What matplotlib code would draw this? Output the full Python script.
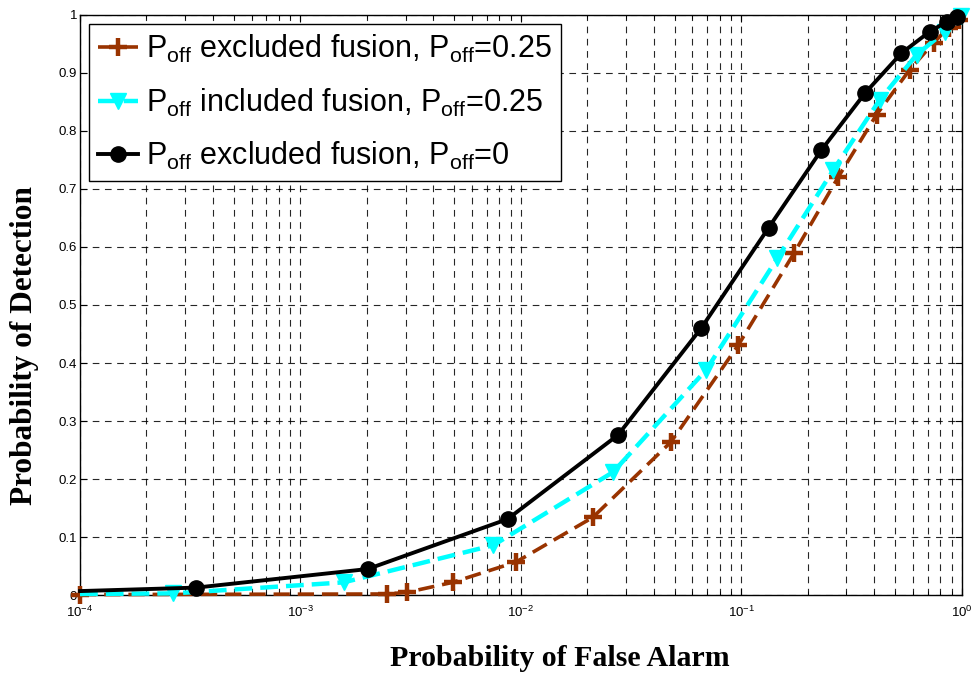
import matplotlib
matplotlib.use("Agg")
import matplotlib.pyplot as plt
from matplotlib.ticker import LogLocator, FixedLocator

plt.rcParams['font.family'] = ['Liberation Sans', 'DejaVu Sans']
plt.rcParams['mathtext.default'] = 'regular'

# Curve data
pf_excl = [1e-4, 2.48e-3, 3.06e-3, 4.9e-3, 9.5e-3, 0.0212, 0.048, 0.097, 0.174,
           0.276, 0.411, 0.58, 0.746, 0.873, 0.97]
pd_excl = [0.001, 0.002, 0.005, 0.022, 0.057, 0.134, 0.264, 0.431, 0.59,
           0.721, 0.828, 0.905, 0.952, 0.978, 0.991]

pf_incl = [1e-4, 2.65e-4, 1.57e-3, 7.5e-3, 0.0262, 0.0693, 0.146, 0.262, 0.424,
           0.624, 0.838, 0.99]
pd_incl = [0.002, 0.003, 0.022, 0.086, 0.212, 0.388, 0.581, 0.733, 0.853,
           0.931, 0.971, 0.998]

pf_zero = [1e-4, 3.37e-4, 2.02e-3, 8.7e-3, 0.0276, 0.0658, 0.133, 0.231, 0.366,
           0.533, 0.716, 0.855, 0.95]
pd_zero = [0.007, 0.013, 0.045, 0.131, 0.276, 0.46, 0.633, 0.767, 0.866,
           0.934, 0.971, 0.988, 0.997]

labels = [r'P$_{off}$ excluded fusion, P$_{off}$=0.25',
          r'P$_{off}$ included fusion, P$_{off}$=0.25',
          r'P$_{off}$ excluded fusion, P$_{off}$=0']
y_ticks = [0, 0.1, 0.2, 0.3, 0.4, 0.5, 0.6, 0.7, 0.8, 0.9, 1]
y_ticklabels = ['0', '0.1', '0.2', '0.3', '0.4', '0.5', '0.6', '0.7', '0.8', '0.9', '1']

fig = plt.figure(figsize=(9.71, 6.74), dpi=100)
ax = fig.add_axes([0.0824, 0.117, 0.908, 0.861])

ax.plot(pf_excl, pd_excl, '--', color='#993300', lw=2.6, marker='+', ms=13, mew=3.2,
        dashes=(4.5, 2.2), label=labels[0], clip_on=False, zorder=3)
ax.plot(pf_incl, pd_incl, '--', color='#00FFFF', lw=3.2, marker='v', ms=11,
        dashes=(4, 1.8), markevery=list(range(1, len(pf_incl))),
        label=labels[1], clip_on=False, zorder=4)
ax.plot(pf_zero, pd_zero, '-', color='black', lw=2.8, marker='o', ms=11,
        markevery=list(range(1, len(pf_zero))), label=labels[2], clip_on=False, zorder=5)

ax.set_xscale('log')
ax.set_xlim(1e-4, 1)
ax.set_ylim(0, 1)
ax.xaxis.set_major_locator(LogLocator(base=10, numticks=10))
ax.xaxis.set_minor_locator(LogLocator(base=10, subs=range(2, 10), numticks=20))
ax.yaxis.set_major_locator(FixedLocator(y_ticks))
ax.set_yticklabels(y_ticklabels)

ax.grid(True, which='both', axis='x', color='black', linestyle=(0, (6, 5)), lw=0.8, alpha=0.85)
ax.grid(True, which='major', axis='y', color='black', linestyle=(0, (6, 5)), lw=0.8, alpha=0.85)
ax.tick_params(which='both', direction='in', top=True, right=True, labelsize=9.5)
ax.tick_params(axis='y', which='major', pad=2)
ax.tick_params(axis='x', which='major', pad=7)
ax.tick_params(which='major', length=5)
ax.tick_params(which='minor', length=3)
for s in ax.spines.values():
    s.set_linewidth(1.0)

ax.set_xlabel('Probability of False Alarm', fontfamily='Liberation Serif',
              fontweight='bold', fontsize=21.5)
ax.set_ylabel('Probability of Detection', fontfamily='Liberation Serif',
              fontweight='bold', fontsize=22.5)
ax.xaxis.set_label_coords(0.544, -0.086)
ax.yaxis.set_label_coords(-0.046, 0.431)

leg = ax.legend(loc='upper left', fontsize=22, handlelength=1.3, handletextpad=0.25,
                borderaxespad=0.3, fancybox=False, framealpha=1, edgecolor='black',
                labelspacing=0.7, borderpad=0.3)
leg.get_frame().set_linewidth(1.0)

fig.savefig('out.png', dpi=100)
